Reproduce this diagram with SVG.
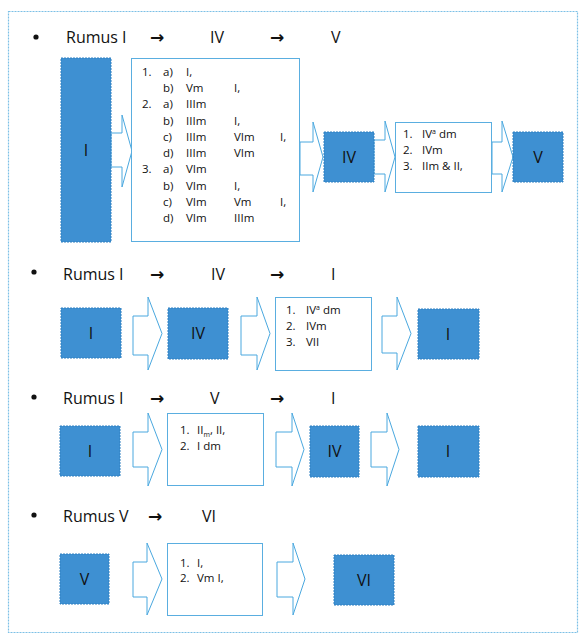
<svg xmlns="http://www.w3.org/2000/svg" width="584" height="640" viewBox="0 0 584 640">
<style>
.frame{fill:none;stroke:#7cc0e6;stroke-width:1.2;stroke-dasharray:2 1}
.blk{fill:#3e90d2;stroke:#2f80c2;stroke-width:1;stroke-dasharray:2 1}
.lst{fill:#fff;stroke:#5aaee0;stroke-width:1}
.arr{fill:#fff;stroke:#4aa8df;stroke-width:1;stroke-linejoin:miter}
.hd{font-family:"Open Sans","Noto Sans","Liberation Sans",sans-serif;font-size:16px;fill:#111}
.ar{font-family:"DejaVu Sans",sans-serif;font-size:17px;font-weight:bold;fill:#111}
.bl{font-family:"Open Sans","Noto Sans","Liberation Sans",sans-serif;font-size:16px;fill:#111;text-anchor:middle}
.tx{font-family:"Open Sans","Noto Sans","Liberation Sans",sans-serif;font-size:11.5px;fill:#111}
.sup{font-size:7px}
</style>
<rect class="frame" x="8.5" y="11.5" width="569" height="621"/>

<!-- headers -->
<g id="header1">
<circle cx="36" cy="37" r="2.6" fill="#111"/>
<text class="hd" x="66" y="43">Rumus I</text>
<text class="ar" x="150" y="43">→</text>
<text class="hd" x="210" y="43">IV</text>
<text class="ar" x="270" y="43">→</text>
<text class="hd" x="331" y="43">V</text>
</g>
<g id="header2">
<circle cx="34" cy="272" r="2.6" fill="#111"/>
<text class="hd" x="63" y="280">Rumus I</text>
<text class="ar" x="150" y="280">→</text>
<text class="hd" x="211" y="280">IV</text>
<text class="ar" x="270" y="280">→</text>
<text class="hd" x="331" y="280">I</text>
</g>
<g id="header3">
<circle cx="34" cy="397" r="2.6" fill="#111"/>
<text class="hd" x="63" y="404">Rumus I</text>
<text class="ar" x="150" y="404">→</text>
<text class="hd" x="210" y="404">V</text>
<text class="ar" x="270" y="404">→</text>
<text class="hd" x="331" y="404">I</text>
</g>
<g id="header4">
<circle cx="34" cy="515" r="2.6" fill="#111"/>
<text class="hd" x="63" y="522">Rumus V</text>
<text class="ar" x="148" y="522">→</text>
<text class="hd" x="202" y="522">VI</text>
</g>

<!-- connectors -->
<g id="connectors">
<polygon class="arr" points="111,133 122,133 122,115 132,151 122,187 122,167 111,167"/>
<polygon class="arr" points="300,142 313,142 313,122 323,157 313,192 313,175 300,175"/>
<polygon class="arr" points="374,140 385,140 385,121 395,157 385,192 385,174 374,174"/>
<polygon class="arr" points="492,142 502,142 502,121 513,157 502,192 502,174 492,174"/>

<polygon class="arr" points="133,316 148,316 148,297 162,333.5 148,370 148,355 133,355"/>
<polygon class="arr" points="241,316 257,316 257,297 270,333.5 257,370 257,355 241,355"/>
<polygon class="arr" points="382,316 397,316 397,297 411,333.5 397,370 397,353 382,353"/>

<polygon class="arr" points="133,432 148,432 148,413 162,449.5 148,486 148,467 133,467"/>
<polygon class="arr" points="276,432 292,432 292,413 304,449.5 292,486 292,467 276,467"/>
<polygon class="arr" points="371,432 387,432 387,413 399,449.5 387,486 387,467 371,467"/>

<polygon class="arr" points="133,562 147,562 147,543 162,579 147,615 147,597 133,597"/>
<polygon class="arr" points="277,562 293,562 293,543 305,579 293,615 293,597 277,597"/>
</g>

<!-- section 1 -->
<g id="s1-I"><rect class="blk" x="61" y="58" width="50" height="184"/><text class="bl" x="86" y="156">I</text></g>
<g id="s1-list">
<rect class="lst" x="131.5" y="58.5" width="168" height="183"/>
<text class="tx" x="142" y="76">1.</text><text class="tx" x="163" y="76">a)</text><text class="tx" x="186" y="76">I,</text>
<text class="tx" x="163" y="92">b)</text><text class="tx" x="186" y="92">Vm</text><text class="tx" x="234" y="92">I,</text>
<text class="tx" x="142" y="108">2.</text><text class="tx" x="163" y="108">a)</text><text class="tx" x="186" y="108">IIIm</text>
<text class="tx" x="163" y="125">b)</text><text class="tx" x="186" y="125">IIIm</text><text class="tx" x="234" y="125">I,</text>
<text class="tx" x="163" y="141">c)</text><text class="tx" x="186" y="141">IIIm</text><text class="tx" x="234" y="141">VIm</text><text class="tx" x="280" y="141">I,</text>
<text class="tx" x="163" y="157">d)</text><text class="tx" x="186" y="157">IIIm</text><text class="tx" x="234" y="157">VIm</text>
<text class="tx" x="142" y="173">3.</text><text class="tx" x="163" y="173">a)</text><text class="tx" x="186" y="173">VIm</text>
<text class="tx" x="163" y="190">b)</text><text class="tx" x="186" y="190">VIm</text><text class="tx" x="234" y="190">I,</text>
<text class="tx" x="163" y="206">c)</text><text class="tx" x="186" y="206">VIm</text><text class="tx" x="234" y="206">Vm</text><text class="tx" x="280" y="206">I,</text>
<text class="tx" x="163" y="222">d)</text><text class="tx" x="186" y="222">VIm</text><text class="tx" x="234" y="222">IIIm</text>
</g>
<g id="s1-IV"><rect class="blk" x="324" y="132" width="50" height="50"/><text class="bl" x="349" y="163">IV</text></g>
<g id="s1-list2">
<rect class="lst" x="395.5" y="122.5" width="96" height="70"/>
<text class="tx" x="403" y="138">1.</text><text class="tx" x="422" y="138">IV<tspan class="sup" dy="-4">a</tspan><tspan dy="4"> dm</tspan></text>
<text class="tx" x="403" y="154">2.</text><text class="tx" x="422" y="154">IVm</text>
<text class="tx" x="403" y="170">3.</text><text class="tx" x="422" y="170">IIm &amp; II,</text>
</g>
<g id="s1-V"><rect class="blk" x="513" y="132" width="50" height="50"/><text class="bl" x="538" y="163">V</text></g>

<!-- section 2 -->
<g id="s2-I"><rect class="blk" x="61" y="308" width="60" height="50"/><text class="bl" x="91" y="339">I</text></g>
<g id="s2-IV"><rect class="blk" x="168" y="308" width="60" height="51"/><text class="bl" x="198" y="339">IV</text></g>
<g id="s2-list">
<rect class="lst" x="275.5" y="297.5" width="96" height="73"/>
<text class="tx" x="286" y="314">1.</text><text class="tx" x="306" y="314">IV<tspan class="sup" dy="-4">a</tspan><tspan dy="4"> dm</tspan></text>
<text class="tx" x="286" y="330">2.</text><text class="tx" x="306" y="330">IVm</text>
<text class="tx" x="286" y="346">3.</text><text class="tx" x="306" y="346">VII</text>
</g>
<g id="s2-I2"><rect class="blk" x="418" y="309" width="61" height="50"/><text class="bl" x="448" y="340">I</text></g>

<!-- section 3 -->
<g id="s3-I"><rect class="blk" x="60" y="426" width="60" height="50"/><text class="bl" x="90" y="457">I</text></g>
<g id="s3-list">
<rect class="lst" x="167.5" y="413.5" width="96" height="72"/>
<text class="tx" x="180" y="434">1.</text><text class="tx" x="197" y="434">II<tspan class="sup" dy="3">m</tspan><tspan dy="-3">, II,</tspan></text>
<text class="tx" x="180" y="450">2.</text><text class="tx" x="197" y="450">I dm</text>
</g>
<g id="s3-IV"><rect class="blk" x="310" y="426" width="49" height="51"/><text class="bl" x="334.5" y="457">IV</text></g>
<g id="s3-I2"><rect class="blk" x="418" y="426" width="61" height="51"/><text class="bl" x="448" y="457">I</text></g>

<!-- section 4 -->
<g id="s4-V"><rect class="blk" x="60" y="554" width="49" height="50"/><text class="bl" x="84.5" y="585">V</text></g>
<g id="s4-list">
<rect class="lst" x="167.5" y="543.5" width="95" height="72"/>
<text class="tx" x="180" y="567">1.</text><text class="tx" x="197" y="567">I,</text>
<text class="tx" x="180" y="582">2.</text><text class="tx" x="197" y="582">Vm I,</text>
</g>
<g id="s4-VI"><rect class="blk" x="334" y="555" width="60" height="50"/><text class="bl" x="364" y="586">VI</text></g>
</svg>
